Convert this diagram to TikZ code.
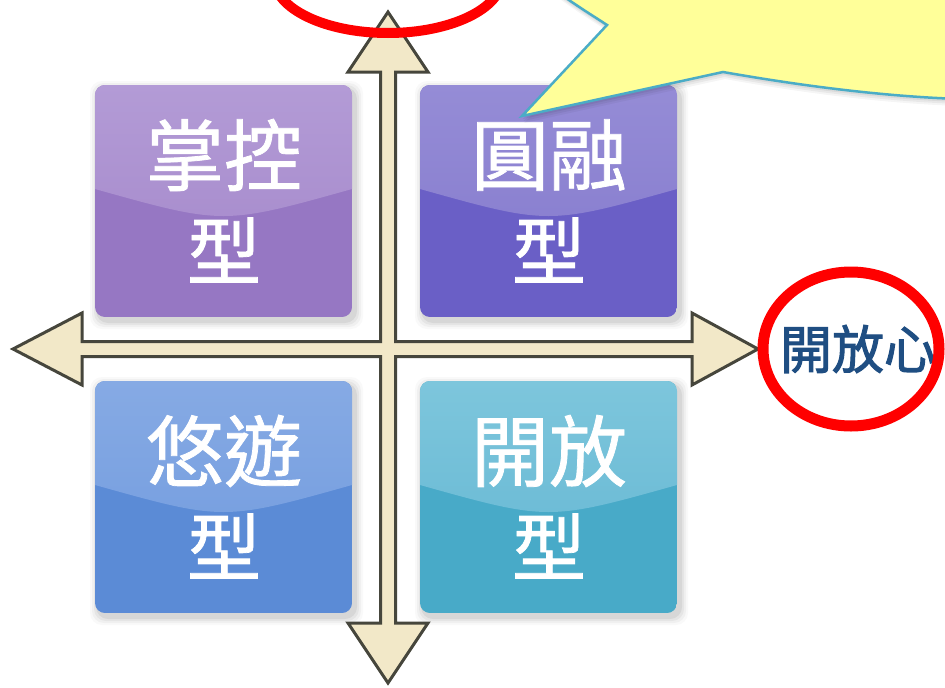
\documentclass[tikz,border=0pt]{standalone}
\usepackage{fontspec}
\newfontfamily\cjk[FakeBold=1]{Noto Sans CJK TC}
\newfontfamily\cjkb[FakeBold=2]{Noto Sans CJK TC}
\definecolor{axisfill}{HTML}{F2E8C8}
\definecolor{axisline}{HTML}{46463C}
\definecolor{ringred}{HTML}{FF0000}
\definecolor{bubfill}{HTML}{FFFF99}
\definecolor{bubline}{HTML}{4BACC6}
\definecolor{opentext}{HTML}{1F4E82}
\definecolor{aTopL}{HTML}{B39BD6}\definecolor{aTop}{HTML}{A98ECE}\definecolor{aBot}{HTML}{9677C3}
\definecolor{bTopL}{HTML}{958CD6}\definecolor{bTop}{HTML}{8A80D0}\definecolor{bBot}{HTML}{6A5FC6}
\definecolor{cTopL}{HTML}{86AAE4}\definecolor{cTop}{HTML}{78A0E0}\definecolor{cBot}{HTML}{5B8BD6}
\definecolor{dTopL}{HTML}{7DC6DC}\definecolor{dTop}{HTML}{6DBCD6}\definecolor{dBot}{HTML}{48AAC8}
\tikzset{
  boxtop/.style={text=white,inner sep=0pt,font=\cjk\fontsize{78}{80}\selectfont},
  boxbot/.style={text=white,inner sep=0pt,font=\cjk\fontsize{74}{76}\selectfont},
  axisshape/.style={fill=axisfill,draw=axisline,line width=3pt,line join=miter},
  redring/.style={draw=ringred,line width=10pt},
  bubble/.style={fill=bubfill,draw=bubline,line width=2.5pt,line join=miter},
}
% #1 name, #2 x, #3 y, #4 top light, #5 top, #6 bottom, #7 first line
\newcommand\quadbox[7]{%
  \foreach \s/\o in {8/0.025,6/0.035,4/0.045,2/0.06}{%
    \fill[black,opacity=\o,rounded corners=12] (#2+3-\s,#3+4-\s) rectangle (#2+260+\s,#3+236+\s);}
  \begin{scope}
    \clip[rounded corners=10] (#2,#3) rectangle (#2+257,#3+232);
    \fill[#6] (#2,#3) rectangle (#2+257,#3+232);
    \shade[top color=#4,bottom color=#5] (#2,#3) -- (#2+257,#3) -- (#2+257,#3+104)
      .. controls (#2+128.5,#3+140) .. (#2,#3+104) -- cycle;
  \end{scope}
  \coordinate (#1nw) at (#2,#3);
  \node[boxtop] (#1a) at (#2+129,#3+70) {#7};
  \node[boxbot] (#1b) at (#2+129,#3+165) {型};
}
\begin{document}
\begin{tikzpicture}[x=1pt,y=-1pt]
\useasboundingbox (0,0) rectangle (945,688);
\clip (0,0) rectangle (945,688);
\fill[white] (0,0) rectangle (945,688);

\quadbox{ctl}{95}{85}{aTopL}{aTop}{aBot}{掌控}
\quadbox{harm}{420}{85}{bTopL}{bTop}{bBot}{圓融}
\quadbox{free}{95}{381}{cTopL}{cTop}{cBot}{悠遊}
\quadbox{open}{420}{381}{dTopL}{dTop}{dBot}{開放}

% cross of double arrows
\draw[axisshape] (388,12) -- (428,72) -- (395.5,72) -- (395.5,341.5) -- (692,341.5)
  -- (692,313) -- (758,349) -- (692,385) -- (692,356.5) -- (395.5,356.5)
  -- (395.5,623) -- (428,623) -- (388,683) -- (348,623) -- (380.5,623)
  -- (380.5,356.5) -- (82,356.5) -- (82,385) -- (13,349) -- (82,313)
  -- (82,341.5) -- (380.5,341.5) -- (380.5,72) -- (348,72) -- cycle;

% speech bubble (cut by the frame)
\foreach \s/\o in {7/0.04,5/0.05,3/0.06}{%
  \fill[black,opacity=\o] (555+\s*0.3,-10+\s) .. controls (575+\s*0.3,5+\s) and (595+\s*0.3,17+\s) .. (607+\s*0.3,25+\s)
    -- (522+\s*0.3,116+\s) -- (723+\s*0.3,72+\s) .. controls (780,82+\s) and (870,96+\s) .. (960,99+\s)
    -- (960,-10) -- cycle;}
\draw[bubble] (555,-10) .. controls (575,5) and (595,17) .. (607,25)
  -- (522,116) -- (723,72) .. controls (780,82) and (870,96) .. (960,99)
  -- (960,-10) -- cycle;

% red rings
\draw[redring] (388,-22) ellipse [x radius=114, y radius=55];
\node[inner sep=0pt,text=opentext,font=\cjkb\fontsize{52}{54}\selectfont] (openheart) at (858,349) {開放心};
\draw[redring,line width=11pt] (851,349) ellipse [x radius=88, y radius=77];
\end{tikzpicture}
\end{document}
